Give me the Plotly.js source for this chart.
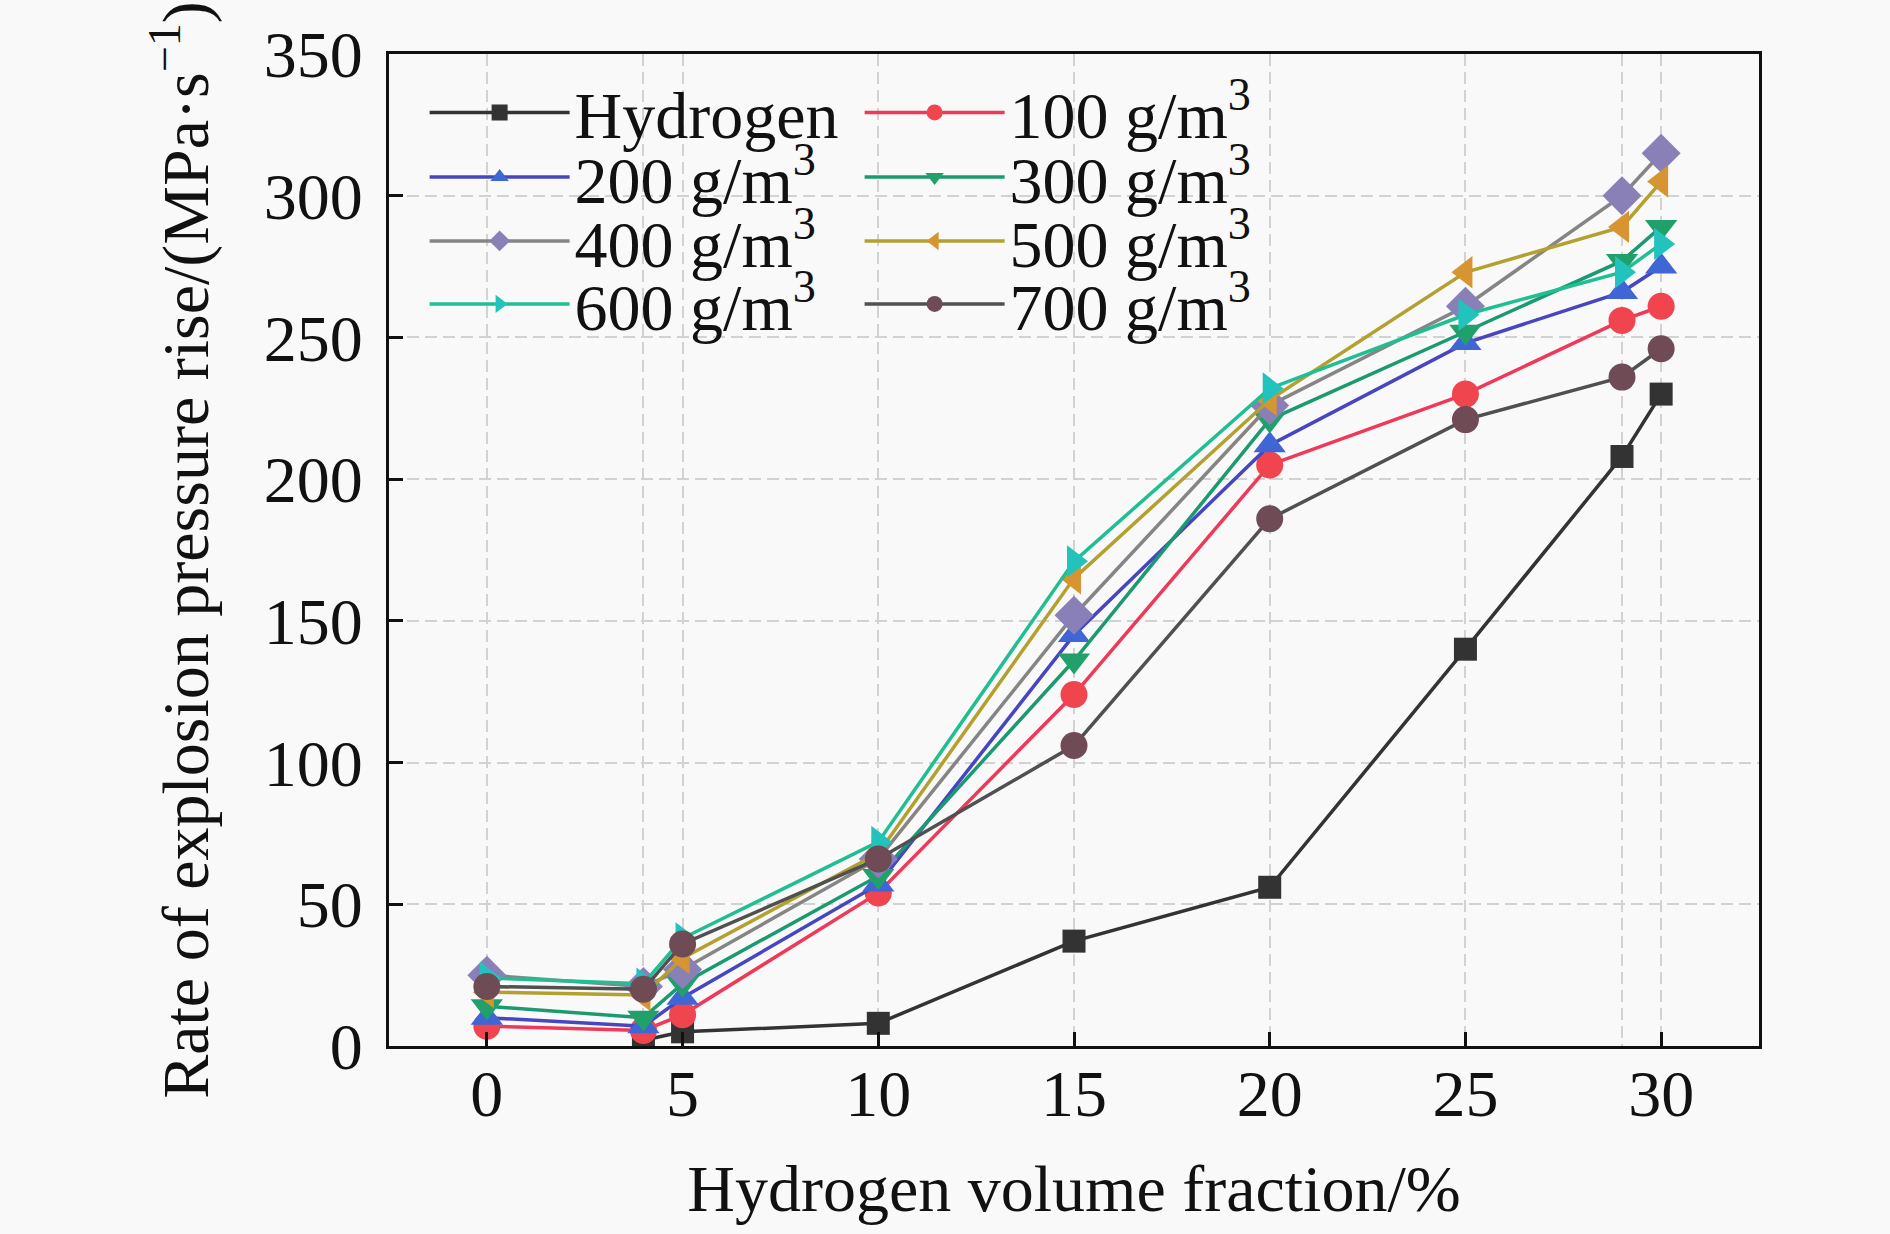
<!DOCTYPE html>
<html>
<head>
<meta charset="utf-8">
<script src="https://cdn.plot.ly/plotly-3.0.1.min.js"></script>
<style>
  html, body { margin: 0; padding: 0; background: #f9f9f9; }
  #chart { width: 1890px; height: 1234px; }
</style>
</head>
<body>
<div id="chart"></div>
<script>
// hydrogen volume fraction (%) on the x axis
const fraction = [0, 4, 5, 10, 15, 20, 25, 29, 30]

// rate of explosion pressure rise, MPa/s, one list per dust concentration
const hydrogen = [null, 2, 5, 8, 37, 56, 140, 208, 230]
const dust100 = [7, 5.5, 11, 54, 124, 205, 230, 256, 261]
const dust200 = [10, 7, 17, 57, 145, 212, 248, 266, 275]
const dust300 = [14, 10, 22, 60, 136, 221, 252, 277, 289]
const dust400 = [25, 21, 27, 66, 152, 226, 261, 300, 315]
const dust500 = [19, 18, 31, 68, 165, 228, 273, 289, 305]
const dust600 = [24, 22, 38, 72, 171, 232, 258, 273, 283]
const dust700 = [21, 20, 36, 66, 106, 186, 221, 236, 246]

const seriesNames = ['Hydrogen', '100 g/m<sup>3</sup>', '200 g/m<sup>3</sup>', '300 g/m<sup>3</sup>',
  '400 g/m<sup>3</sup>', '500 g/m<sup>3</sup>', '600 g/m<sup>3</sup>', '700 g/m<sup>3</sup>']

const FONT = 'Liberation Serif, Times New Roman, serif'
const FS = 66

const styles = [
  { values: hydrogen, line: '#333333', marker: '#333333', symbol: 'square', size: 23 },
  { values: dust100, line: '#ee3a58', marker: '#f0444f', symbol: 'circle', size: 27 },
  { values: dust200, line: '#4646c0', marker: '#3f66d4', symbol: 'triangle-up', size: 28 },
  { values: dust300, line: '#1b9a72', marker: '#22a06b', symbol: 'triangle-down', size: 28 },
  { values: dust400, line: '#858585', marker: '#8a80b8', symbol: 'diamond', size: 30 },
  { values: dust500, line: '#b3a02f', marker: '#d69530', symbol: 'triangle-left', size: 28 },
  { values: dust600, line: '#1fbf93', marker: '#22c3bd', symbol: 'triangle-right', size: 28 },
  { values: dust700, line: '#505050', marker: '#6f4b55', symbol: 'circle', size: 27 },
]

// two entries per legend row, four rows
const legendIds = ['legend', 'legend', 'legend2', 'legend2', 'legend3', 'legend3', 'legend4', 'legend4']

const data = styles.map((s, i) => ({
  x: fraction,
  y: s.values,
  name: seriesNames[i],
  legend: legendIds[i],
  mode: 'lines+markers',
  line: { color: s.line, width: 3.5 },
  marker: { color: s.marker, symbol: s.symbol, size: s.size, line: { width: 0 } },
}))

const legendBase = {
  orientation: 'h',
  xanchor: 'left',
  yanchor: 'middle',
  x: 0.026,
  bgcolor: 'rgba(0,0,0,0)',
  font: { family: FONT, size: FS, color: '#111' },
  itemwidth: 140,
  entrywidth: 280,
  entrywidthmode: 'pixels',
}

const layout = {
  width: 1890,
  height: 1234,
  paper_bgcolor: '#f9f9f9',
  plot_bgcolor: '#f9f9f9',
  margin: { l: 389, r: 131, t: 54, b: 188 },
  font: { family: FONT, size: FS, color: '#111' },
  showlegend: true,
  legend: { ...legendBase, y: 0.941 },
  legend2: { ...legendBase, y: 0.876 },
  legend3: { ...legendBase, y: 0.8115 },
  legend4: { ...legendBase, y: 0.748 },
  xaxis: {
    range: [-2.5, 32.5],
    tickmode: 'linear',
    tick0: 0,
    dtick: 5,
    ticks: 'inside',
    ticklen: 14,
    tickwidth: 3,
    tickcolor: '#111',
    ticklabelstandoff: -12,
    tickfont: { family: FONT, size: FS, color: '#111' },
    showline: true,
    linecolor: '#111',
    linewidth: 3,
    mirror: true,
    zeroline: false,
    showgrid: true,
    gridcolor: '#d2d2d2',
    gridwidth: 2,
    griddash: '12px,6px',
    minor: {
      tickmode: 'array',
      tickvals: fraction.filter(v => v % 5 !== 0),
      ticks: '',
      showgrid: true,
      gridcolor: '#d2d2d2',
      gridwidth: 2,
      griddash: '12px,6px',
    },
    title: { text: 'Hydrogen volume fraction/%', standoff: 36, font: { family: FONT, size: FS, color: '#111' } },
  },
  yaxis: {
    range: [0, 350],
    tickmode: 'linear',
    tick0: 0,
    dtick: 50,
    ticks: 'inside',
    ticklen: 14,
    tickwidth: 3,
    tickcolor: '#111',
    ticklabelstandoff: 10,
    tickfont: { family: FONT, size: FS, color: '#111' },
    showline: true,
    linecolor: '#111',
    linewidth: 3,
    mirror: true,
    zeroline: false,
    showgrid: true,
    gridcolor: '#d2d2d2',
    gridwidth: 2,
    griddash: '12px,6px',
    title: { text: 'Rate of explosion pressure rise/(MPa·s<sup>−1</sup>)', standoff: 34, font: { family: FONT, size: FS, color: '#111' } },
  },
}

const config = { displayModeBar: false, responsive: false }

Plotly.newPlot('chart', data, layout, config)
</script>
</body>
</html>
